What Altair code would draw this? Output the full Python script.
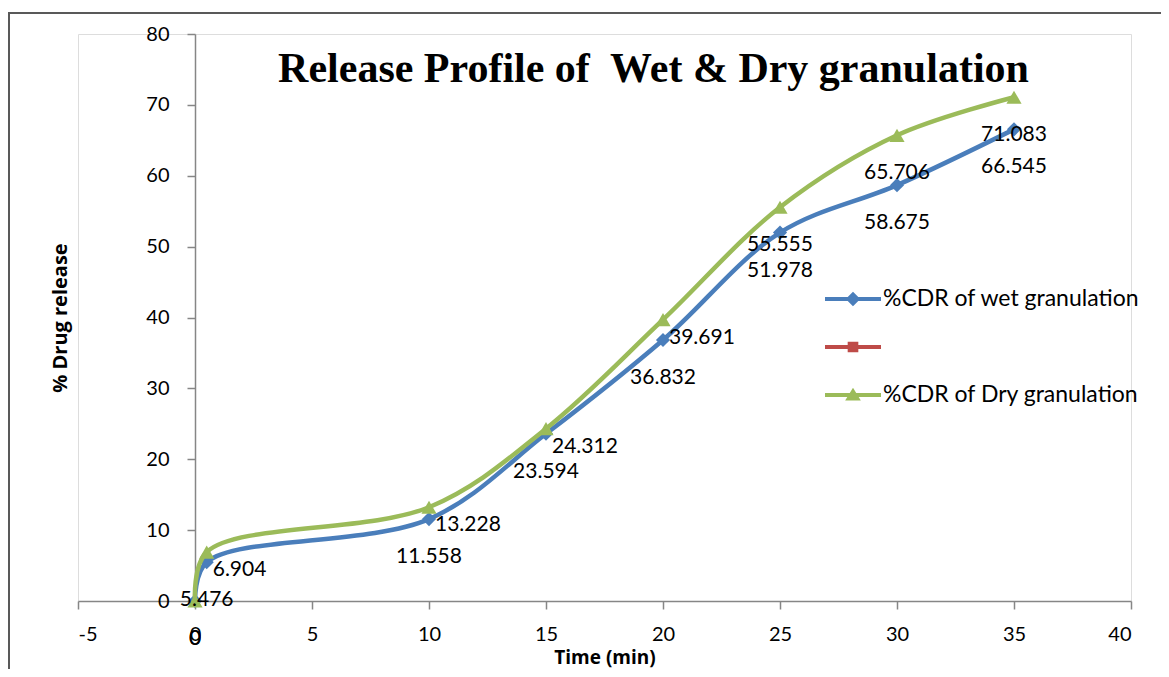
import altair as alt
import pandas as pd

# ---- data ----
time_min = [0, 0.5, 10, 15, 20, 25, 30, 35]
wet = [0, 5.476, 11.558, 23.594, 36.832, 51.978, 58.675, 66.545]
dry = [0, 6.904, 13.228, 24.312, 39.691, 55.555, 65.706, 71.083]
series_names = ["%CDR of wet granulation", " ", "%CDR of Dry granulation"]
x_ticks = [-5, 0, 5, 10, 15, 20, 25, 30, 35, 40]
y_ticks = [0, 10, 20, 30, 40, 50, 60, 70, 80]
title_text = "Release Profile of\u00a0 Wet & Dry granulation"

# label placement (style, not data)
wet_label_place = ["below"] * 8
dry_label_place = ["below", "right", "right", "right", "right", "below", "below", "below"]

BLUE = "#4A7EBB"
RED = "#BE4B48"
GREEN = "#9BBB59"
FONT = "Lato"

wet_df = pd.DataFrame({"t": time_min, "v": wet, "series": series_names[0],
                       "place": wet_label_place, "lab": [f"{v:g}" for v in wet]})
dry_df = pd.DataFrame({"t": time_min, "v": dry, "series": series_names[2],
                       "place": dry_label_place, "lab": [f"{v:g}" for v in dry]})
all_df = pd.concat([wet_df, dry_df], ignore_index=True)

W, H = 1053, 567
x_scale = alt.Scale(domain=[-5, 40], nice=False, zero=False)
y_scale = alt.Scale(domain=[0, 80], nice=False)
y_axis_offset = -W * 5 / 45

X = alt.X("t:Q", scale=x_scale, axis=alt.Axis(
    values=x_ticks, grid=False, domainColor="#868686", tickColor="#868686",
    domainWidth=1.5, tickWidth=1.5, tickSize=8, labelPadding=15,
    labelExpr="datum.value < 0 ? '-' + abs(datum.value) : '' + datum.value",
    labelFont=FONT, labelFontSize=20, labelColor="black",
    title="Time (min)", titleFont="Open Sans", titleFontSize=19, titleFontWeight="bold",
    titleColor="black", titleBaseline="middle", titleY=56, titleX=W / 2))
Y = alt.Y("v:Q", scale=y_scale, axis=alt.Axis(
    values=y_ticks, grid=False, offset=y_axis_offset, domainColor="#868686",
    tickColor="#868686", domainWidth=1.5, tickWidth=1.5, tickSize=8, labelPadding=18,
    labelFont=FONT, labelFontSize=20, labelColor="black",
    title="% Drug release", titleFont="Open Sans", titleFontSize=20, titleFontWeight="bold",
    titleColor="black", titleAngle=-90, titleAlign="center", titleBaseline="middle",
    titleX=-135, titleY=H / 2))


def series_layers(df, color, shape, size):
    base = alt.Chart(df)
    line = base.mark_line(interpolate="catmull-rom", strokeWidth=4.5, color=color).encode(x=X, y=Y)
    pts = base.mark_point(shape=shape, filled=True, size=size, opacity=1, color=color).encode(x=X, y=Y)
    return [line, pts]


labels_below = alt.Chart(all_df).transform_filter(alt.datum.place == "below").mark_text(
    font=FONT, fontSize=21, color="black", align="center", baseline="middle", dy=38
).encode(x=X, y=Y, text="lab:N")
labels_right = alt.Chart(all_df).transform_filter(alt.datum.place == "right").mark_text(
    font=FONT, fontSize=21, color="black", align="left", baseline="middle", dx=6, dy=18
).encode(x=X, y=Y, text="lab:N")

# legend symbols: line with marker
P_WET = "M-1,-0.075 L1,-0.075 L1,0.075 L-1,0.075 Z M0,-0.26 L0.26,0 L0,0.26 L-0.26,0 Z"
P_MID = "M-1,-0.075 L1,-0.075 L1,0.075 L-1,0.075 Z M-0.19,-0.19 L0.19,-0.19 L0.19,0.19 L-0.19,0.19 Z"
P_DRY = "M-1,-0.075 L1,-0.075 L1,0.075 L-1,0.075 Z M0,-0.26 L0.28,0.2 L-0.28,0.2 Z"
leg = alt.Legend(title=None, orient="none", legendX=747, legendY=237, direction="vertical",
                 symbolSize=3136, symbolStrokeWidth=0, symbolOpacity=1, labelFont=FONT,
                 labelFontSize=23, labelColor="black", labelOffset=2, labelLimit=500,
                 padding=0, rowPadding=8)
legend_df = pd.DataFrame({"series": series_names, "t": [-999] * 3, "v": [-999] * 3})
legend_layer = alt.Chart(legend_df).transform_filter(alt.datum.t > 0).mark_point(
    filled=True, opacity=1).encode(
    fill=alt.Fill("series:N", scale=alt.Scale(domain=series_names, range=[BLUE, RED, GREEN]), legend=leg),
    shape=alt.Shape("series:N", scale=alt.Scale(domain=series_names, range=[P_WET, P_MID, P_DRY]), legend=leg),
)

border = alt.Chart(alt.Data(values=[{}])).mark_rect(
    fill="transparent", stroke="#595959", strokeWidth=2).encode(
    x=alt.value(-69), y=alt.value(-21), x2=alt.value(1200), y2=alt.value(700))

layers = [border] + series_layers(wet_df, BLUE, "diamond", 200) + series_layers(dry_df, GREEN, "triangle-up", 230) \
    + [labels_below, labels_right, legend_layer]

chart = alt.layer(*layers).properties(
    width=W, height=H,
    title=alt.Title(title_text, font="Liberation Serif",
                    fontSize=42, fontWeight="bold", color="black", anchor="middle",
                    frame="group", baseline="alphabetic", offset=0, dx=49, dy=112),
    padding={"left": 70, "top": 26, "right": 30, "bottom": 68},
    autosize=alt.AutoSizeParams(type="none"),
).configure_view(stroke=None).configure(background="white")

chart.save("out.html", embed_options={"renderer": "svg", "actions": False})
